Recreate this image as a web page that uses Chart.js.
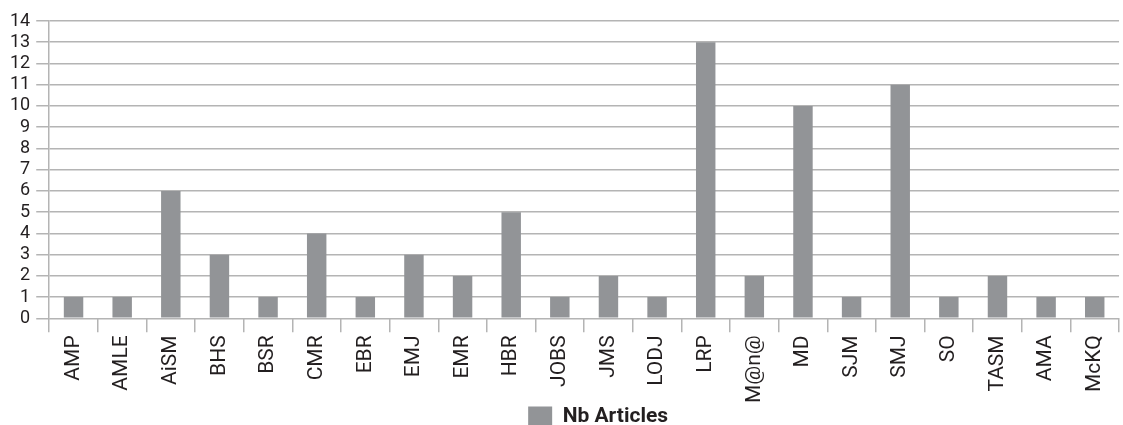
<!DOCTYPE html>
<html>
<head>
<meta charset="utf-8">
<script src="https://cdn.jsdelivr.net/npm/chart.js@4"></script>
<style>
  html, body { margin: 0; padding: 0; background: #fff; overflow: hidden; }
  #wrap { width: 1123px; height: 437px; }
</style>
</head>
<body>
<div id="wrap"><canvas id="c" width="1123" height="437"></canvas></div>
<script>
const journals = ['AMP','AMLE','AiSM','BHS','BSR','CMR','EBR','EMJ','EMR','HBR','JOBS','JMS','LODJ','LRP','M@n@','MD','SJM','SMJ','SO','TASM','AMA','McKQ'];
const articleCounts = [1,1,6,3,1,4,1,3,2,5,1,2,1,13,2,10,1,11,1,2,1,1];
const yMin = 0;
const yMax = 14;
const yStep = 1;

const gridColor = '#b4b4b4';
const barColor = '#929497';
const textColor = '#231f20';

// nudge the bottom legend so it sits under the middle of the plot
const legendShift = {
  id: 'legendShift',
  afterLayout(chart) {
    const lg = chart.legend;
    if (!lg) return;
    const dx = 14;
    lg.left += dx;
    lg.right += dx;
  }
};

new Chart(document.getElementById('c'), {
  type: 'bar',
  data: {
    labels: journals,
    datasets: [{
      label: 'Nb Articles',
      data: articleCounts,
      backgroundColor: barColor,
      borderWidth: 0,
      barPercentage: 0.4,
      categoryPercentage: 1.0
    }]
  },
  plugins: [legendShift],
  options: {
    responsive: false,
    animation: false,
    layout: { padding: { top: 21, right: 3, left: 4, bottom: 0 } },
    plugins: {
      tooltip: { enabled: false },
      legend: {
        position: 'bottom',
        fullSize: false,
        labels: {
          boxWidth: 24,
          boxHeight: 20,
          color: textColor,
          padding: 0,
          font: { family: 'Roboto', size: 21, weight: 'bold' }
        }
      }
    },
    scales: {
      x: {
        grid: {
          offset: true,
          drawOnChartArea: false,
          drawTicks: true,
          tickLength: 14,
          color: gridColor,
          lineWidth: 1.5
        },
        border: { display: false },
        ticks: {
          minRotation: 90,
          maxRotation: 90,
          autoSkip: false,
          padding: 3,
          color: textColor,
          font: { family: 'Roboto', size: 21 }
        }
      },
      y: {
        min: yMin,
        max: yMax,
        grid: {
          color: gridColor,
          lineWidth: 1.5,
          drawTicks: true,
          tickLength: 13
        },
        border: { display: true, color: gridColor, width: 1.5 },
        ticks: {
          stepSize: yStep,
          autoSkip: false,
          padding: 6,
          color: textColor,
          font: { family: 'Roboto', size: 18 }
        }
      }
    }
  }
});
</script>
</body>
</html>
